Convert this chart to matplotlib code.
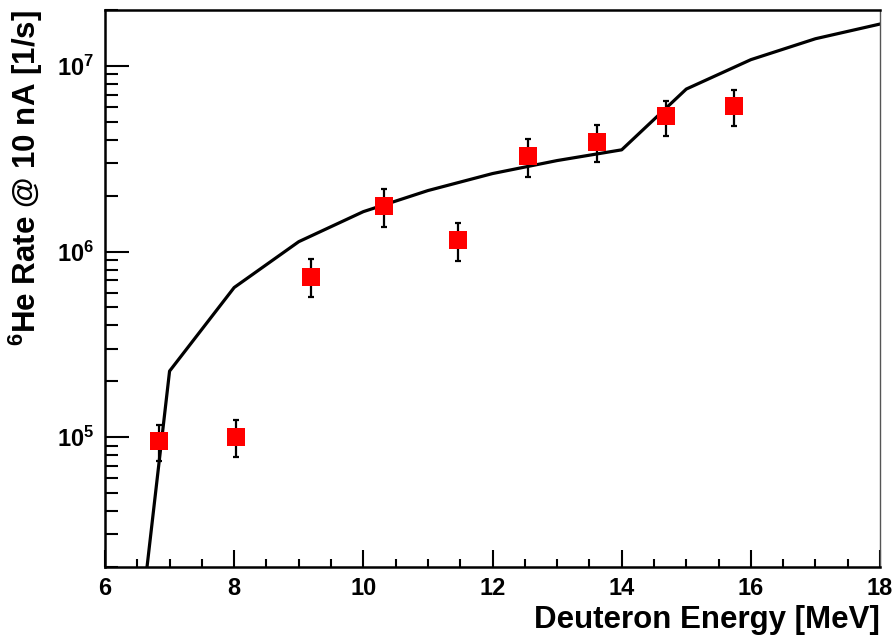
import numpy as np
import matplotlib
matplotlib.use("Agg")
import matplotlib.pyplot as plt
from matplotlib.ticker import LogLocator, MultipleLocator, NullFormatter, FixedLocator

plt.rcParams['font.family'] = ['Liberation Sans', 'DejaVu Sans']
plt.rcParams['font.weight'] = 'bold'
plt.rcParams['mathtext.fontset'] = 'custom'
plt.rcParams['mathtext.rm'] = 'Liberation Sans:bold'
plt.rcParams['mathtext.bf'] = 'Liberation Sans:bold'
plt.rcParams['mathtext.it'] = 'Liberation Sans:bold'

# measured 6He rates
energy = [6.84, 8.03, 9.19, 10.32, 11.47, 12.55, 13.62, 14.69, 15.74]
rate = [9.5e4, 1.0e5, 7.3e5, 1.75e6, 1.16e6, 3.25e6, 3.87e6, 5.35e6, 6.08e6]
err_up = [1.17e5, 1.24e5, 9.06e5, 2.16e6, 1.42e6, 4.02e6, 4.78e6, 6.5e6, 7.4e6]
err_lo = [7.4e4, 7.8e4, 5.7e5, 1.36e6, 8.9e5, 2.53e6, 3.02e6, 4.17e6, 4.75e6]

# calculated curve
calc_e = [6.5, 7, 8, 9, 10, 11, 12, 13, 14, 15, 16, 17, 18]
calc_r = [7e3, 2.27e5, 6.4e5, 1.13e6, 1.64e6, 2.13e6, 2.63e6, 3.09e6, 3.53e6,
          7.5e6, 1.08e7, 1.40e7, 1.68e7]

fig = plt.figure(figsize=(8.95, 6.39), dpi=100)
ax = fig.add_axes([0.1173, 0.1127, 0.866, 0.8717])

ax.plot(calc_e, calc_r, color='black', lw=2.3, zorder=2)

r = np.array(rate)
yerr = [r - np.array(err_lo), np.array(err_up) - r]
ax.errorbar(energy, rate, yerr=yerr, fmt='none', ecolor='black', elinewidth=1.6,
            capsize=2, capthick=1.6, zorder=3)
ax.plot(energy, rate, 's', color='red', markersize=13, markeredgewidth=0, zorder=4)

ax.set_xlim(6, 18)
ax.set_yscale('log')
ax.set_ylim(2e4, 2e7)

ax.xaxis.set_major_locator(MultipleLocator(2))
ax.xaxis.set_minor_locator(MultipleLocator(0.5))
ax.yaxis.set_major_locator(FixedLocator([1e5, 1e6, 1e7]))
ax.set_yticklabels([r'$10^{5}$', r'$10^{6}$', r'$10^{7}$'])
ax.yaxis.set_minor_locator(LogLocator(base=10, subs=np.arange(2, 10)))
ax.yaxis.set_minor_formatter(NullFormatter())

ax.tick_params(axis='x', which='major', direction='in', length=12, width=1.5,
               labelsize=17, pad=7, top=False)
ax.tick_params(axis='x', which='minor', direction='in', length=6, width=1.5, top=False)
ax.tick_params(axis='y', which='major', direction='in', length=17, width=1.5,
               labelsize=17, pad=8, right=False)
ax.tick_params(axis='y', which='minor', direction='in', length=9, width=1.5, right=False)

for s in ['left', 'bottom', 'top']:
    ax.spines[s].set_linewidth(1.8)
ax.spines['right'].set_linewidth(1.0)
ax.spines['right'].set_color('#555555')

ax.set_xlabel('Deuteron Energy [MeV]', fontsize=22.5, fontweight='bold', ha='right')
ax.xaxis.set_label_coords(1.0, -0.068)
ax.set_ylabel(r'$^{6}$He Rate @ 10 nA [1/s]', fontsize=22.5, fontweight='bold', ha='right')
ax.yaxis.set_label_coords(-0.078, 1.0)

fig.savefig('out.png', dpi=100)
